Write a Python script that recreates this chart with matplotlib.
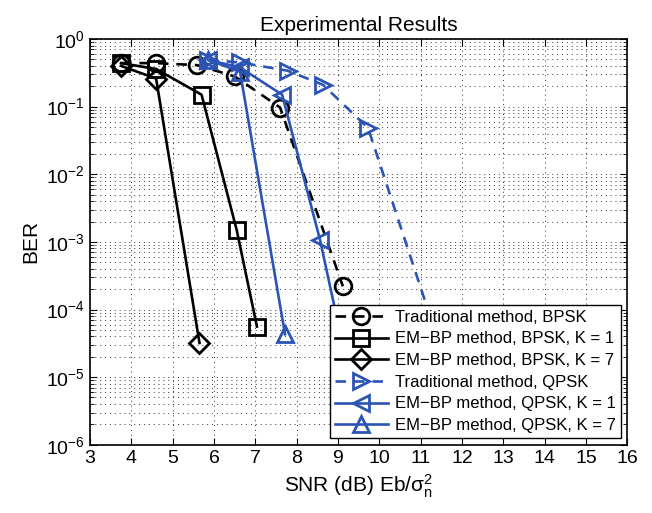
import matplotlib.pyplot as plt
import numpy as np

plt.rcParams['font.family'] = ['Liberation Sans', 'DejaVu Sans']
plt.rcParams['mathtext.fontset'] = 'custom'
plt.rcParams['mathtext.rm'] = 'Liberation Sans'
plt.rcParams['mathtext.default'] = 'regular'

# BER curves (SNR in dB, BER)
snr_trad_bpsk = [3.75, 4.6, 5.6, 6.5, 7.6, 9.12]
ber_trad_bpsk = [0.44, 0.44, 0.41, 0.28, 0.097, 2.2e-4]

snr_em1_bpsk = [3.75, 4.6, 5.7, 6.55, 7.04]
ber_em1_bpsk = [0.44, 0.36, 0.15, 1.5e-3, 5.6e-5]

snr_em7_bpsk = [3.75, 4.6, 5.65]
ber_em7_bpsk = [0.40, 0.26, 3.2e-5]

snr_trad_qpsk = [5.86, 6.63, 7.78, 8.64, 9.73, 11.5]
ber_trad_qpsk = [0.49, 0.45, 0.34, 0.21, 0.048, 2.5e-5]

snr_em1_qpsk = [5.86, 6.63, 7.65, 8.57, 9.3]
ber_em1_qpsk = [0.49, 0.38, 0.15, 1.05e-3, 9e-6]

snr_em7_qpsk = [5.86, 6.63, 7.72]
ber_em7_qpsk = [0.49, 0.33, 4.3e-5]

blue = '#2B54B5'

fig = plt.figure(figsize=(6.52, 5.13), dpi=100)
ax = fig.add_axes([0.138, 0.133, 0.824, 0.791])

lw = 1.9
ms = 12
ax.semilogy(snr_trad_bpsk, ber_trad_bpsk, 'k--', marker='o', lw=lw, ms=ms,
            mfc='none', mew=2, dashes=(4, 3), label='Traditional method, BPSK')
ax.semilogy(snr_em1_bpsk, ber_em1_bpsk, 'k-', marker='s', lw=lw, ms=11,
            mfc='none', mew=2, label='EM\u2212BP method, BPSK, K = 1')
ax.semilogy(snr_em7_bpsk, ber_em7_bpsk, 'k-', marker='D', lw=lw, ms=10,
            mfc='none', mew=2, label='EM\u2212BP method, BPSK, K = 7')
ax.semilogy(snr_trad_qpsk, ber_trad_qpsk, '--', color=blue, marker='>', lw=lw,
            ms=ms, mfc='none', mew=2, dashes=(4, 3), label='Traditional method, QPSK')
ax.semilogy(snr_em1_qpsk, ber_em1_qpsk, '-', color=blue, marker='<', lw=lw,
            ms=ms, mfc='none', mew=2, label='EM\u2212BP method, QPSK, K = 1')
ax.semilogy(snr_em7_qpsk, ber_em7_qpsk, '-', color=blue, marker='^', lw=lw,
            ms=ms, mfc='none', mew=2, label='EM\u2212BP method, QPSK, K = 7')

ax.set_xlim(3, 16)
ax.set_ylim(1e-6, 1)
ax.set_xticks(np.arange(3, 17, 1))
ax.set_yticks([1e-6, 1e-5, 1e-4, 1e-3, 1e-2, 1e-1, 1])

# sparse dotted grid
ax.grid(True, which='major', linestyle=(0, (1, 4)), color='#333333', lw=0.7)
ax.grid(True, which='minor', axis='y', linestyle=(0, (1, 4)), color='#333333', lw=0.7)
ax.tick_params(which='both', direction='in', top=True, right=True, labelsize=14)
ax.tick_params(which='major', length=5)
ax.tick_params(which='minor', length=3)
ax.tick_params(axis='x', which='minor', bottom=False, top=False)
for s in ax.spines.values():
    s.set_linewidth(1.2)

ax.set_title('Experimental Results', fontsize=15)
ax.set_xlabel(r'SNR (dB) Eb/$\sigma_n^2$', fontsize=15)
ax.set_ylabel('BER', fontsize=15)

leg = ax.legend(loc='lower right', fontsize=12, handlelength=3.2,
                borderaxespad=0.4, labelspacing=0.4, fancybox=False,
                framealpha=1, edgecolor='black', handletextpad=0.4,
                borderpad=0.3)
leg.get_frame().set_linewidth(1.0)

fig.savefig('out.png', dpi=100)
